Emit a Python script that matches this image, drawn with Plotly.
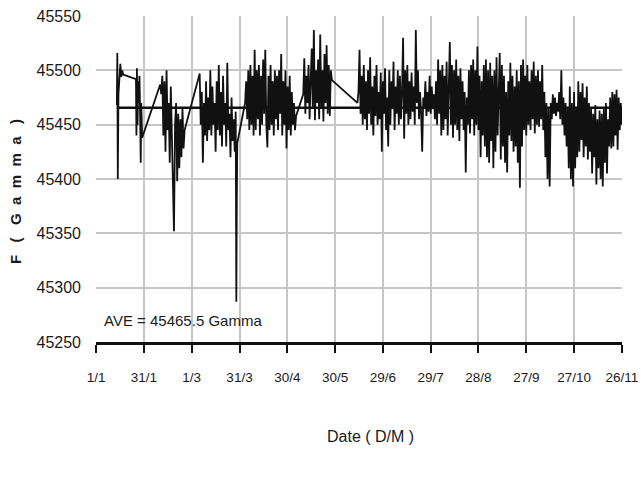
import pandas as pd
import plotly.graph_objects as go

YEAR_START = "2012-01-01"
tick_labels = ["1/1", "31/1", "1/3", "31/3", "30/4", "30/5", "29/6", "29/7",
               "28/8", "27/9", "27/10", "26/11"]
y_ticks = [45250, 45300, 45350, 45400, 45450, 45500, 45550]
AVE = 45465.5
AVE_DAYS = [13.0, 330.0]
STEP = 2.0 / 3.0  # sampling step in days (16 h)

# Segment A: explicit day offsets from 1 Jan
a_days = [13.0, 13.3, 13.6, 14.0, 14.6, 15.2, 15.8, 16.4, 17.0, 25.0, 25.3, 25.6,
          26.0, 26.4, 26.8, 27.2, 27.6, 28.0, 28.3, 28.6, 28.9]
a_vals = [45468, 45516, 45400, 45478, 45492, 45506, 45494, 45500, 45496, 45492, 45440, 45502,
          45450, 45490, 45470, 45495, 45460, 45415, 45470, 45455, 45438]

b_start = 40.2
b_vals = [45487, 45478, 45495, 45440, 45490, 45425, 45500, 45445, 45470, 45415, 45485, 45430,
          45405, 45352, 45450, 45470, 45398, 45460, 45410, 45455, 45420, 45465, 45428, 45445]

c1_start = 65.0
c1_vals = [45497, 45450, 45480, 45415, 45470, 45440, 45490, 45435, 45475, 45445, 45500, 45440,
           45485, 45450, 45470, 45425, 45490, 45445, 45505, 45440, 45480, 45430, 45495, 45450,
           45470, 45430, 45507, 45445, 45460, 45420, 45475, 45435, 45455]

dip_days = [87.0, 87.6, 88.0, 88.3, 88.6]
dip_vals = [45425, 45462, 45287, 45380, 45433]

c2_start = 93.5
c2_vals = [45470, 45490, 45455, 45500, 45445, 45505, 45450, 45495, 45440, 45519,
           45445, 45500, 45455, 45505, 45440, 45495, 45450, 45510, 45460, 45519,
           45450, 45429, 45495, 45445, 45505, 45450, 45490, 45440, 45500, 45455,
           45495, 45445, 45500, 45460, 45515, 45440, 45490, 45450, 45500, 45428,
           45485, 45445, 45495, 45440, 45480, 45450, 45470, 45445, 45458]

c3_start = 130.0
c3_vals = [45478, 45511, 45460, 45495, 45470, 45505, 45455, 45490, 45520, 45465,
           45537, 45454, 45500, 45470, 45510, 45455, 45533, 45465, 45500, 45453,
           45515, 45470, 45523, 45460, 45505, 45458, 45500, 45491]

d_start = 164.0
d_vals = [45470, 45480, 45519, 45460, 45495, 45450, 45505, 45455, 45490, 45445,
          45500, 45460, 45512, 45450, 45485, 45440, 45495, 45458, 45505, 45450,
          45480, 45455, 45498, 45425, 45490, 45460, 45502, 45445, 45475, 45430,
          45500, 45450, 45490, 45465, 45508, 45445, 45485, 45460, 45500, 45450,
          45495, 45455, 45480, 45530, 45437, 45500, 45460, 45505, 45450, 45490,
          45455, 45498, 45462, 45485, 45450, 45537, 45470, 45500, 45455, 45480,
          45460, 45425, 45475, 45465, 45490, 45458, 45480, 45462, 45495, 45460,
          45485, 45465, 45478, 45455, 45490, 45450, 45510, 45460, 45500, 45440,
          45505, 45445, 45495, 45455, 45508, 45440, 45500, 45526, 45450, 45505,
          45438, 45500, 45450, 45510, 45445, 45495, 45435, 45502, 45455, 45490,
          45445, 45480, 45406, 45475, 45450, 45500, 45442, 45505, 45455, 45510,
          45440, 45500, 45450, 45522, 45445, 45495, 45420, 45490, 45440, 45505,
          45430, 45510, 45420, 45500, 45415, 45507, 45435, 45495, 45410, 45500,
          45425, 45512, 45440, 45490, 45516, 45418, 45505, 45430, 45495, 45415,
          45480, 45406, 45490, 45440, 45507, 45435, 45495, 45425, 45485, 45430,
          45500, 45415, 45490, 45392, 45505, 45430, 45510, 45445, 45495, 45440,
          45505, 45450, 45490, 45445, 45500, 45455, 45508, 45442, 45495, 45450,
          45500, 45448, 45490, 45455, 45505, 45445, 45480, 45420, 45470, 45400,
          45465, 45393, 45470, 45455, 45478, 45460, 45475, 45458, 45470, 45462,
          45480, 45455, 45500, 45450, 45475, 45440, 45470, 45430, 45465, 45410,
          45485, 45400, 45470, 45393, 45480, 45410, 45465, 45420, 45490, 45425,
          45480, 45436, 45488, 45420, 45475, 45430, 45485, 45418, 45470, 45425,
          45465, 45405, 45460, 45420, 45468, 45395, 45455, 45410, 45463, 45400,
          45460, 45393, 45465, 45415, 45470, 45405, 45455, 45430, 45475, 45428,
          45480, 45430, 45478, 45440, 45482, 45427, 45475, 45445, 45470, 45450]


def seg_days(start, vals):
    return [start + i * STEP for i in range(len(vals))]


days = (a_days + seg_days(b_start, b_vals) + seg_days(c1_start, c1_vals) + dip_days
        + seg_days(c2_start, c2_vals) + seg_days(c3_start, c3_vals) + seg_days(d_start, d_vals))
vals = a_vals + b_vals + c1_vals + dip_vals + c2_vals + c3_vals + d_vals

t0 = pd.Timestamp(YEAR_START)
dates = t0 + pd.to_timedelta(days, unit="D")
ave_dates = t0 + pd.to_timedelta(AVE_DAYS, unit="D")
tickvals = pd.date_range(YEAR_START, periods=len(tick_labels), freq="30D")

FONT = "Liberation Sans, Arial, sans-serif"
GRID = "#c6c6c6"
TXT = "#1a1a1a"

fig = go.Figure()
fig.add_trace(go.Scatter(x=dates, y=vals, mode="lines",
                         line=dict(color="#111111", width=1.8), showlegend=False))
fig.add_trace(go.Scatter(x=ave_dates, y=[AVE, AVE], mode="lines",
                         line=dict(color="#111111", width=2.4), showlegend=False))

fig.update_layout(
    width=641, height=481,
    margin=dict(l=96, r=19, t=16, b=139),
    paper_bgcolor="white", plot_bgcolor="white",
    font=dict(family=FONT, color=TXT),
    xaxis=dict(
        type="date",
        range=[tickvals[0] - pd.Timedelta(hours=2), tickvals[-1] + pd.Timedelta(hours=2)],
        tickmode="array", tickvals=tickvals, ticktext=tick_labels,
        showgrid=True, gridcolor=GRID, gridwidth=1.5,
        showline=True, linecolor="#111111", linewidth=2.5,
        ticks="outside", ticklen=8, tickwidth=1.5, tickcolor="#111111",
        tickfont=dict(size=13.5, family=FONT, color=TXT),
        ticklabelstandoff=13, zeroline=False, automargin=False,
        ticklabeloverflow="allow",
    ),
    yaxis=dict(
        range=[45250, 45550], tickmode="array", tickvals=y_ticks,
        ticktext=[str(v) for v in y_ticks],
        showgrid=True, gridcolor=GRID, gridwidth=2,
        showline=False, ticks="", zeroline=False,
        tickfont=dict(size=16, family=FONT, color=TXT),
        ticklabelstandoff=14, automargin=False,
        ticklabeloverflow="allow",
    ),
    annotations=[
        dict(text="AVE = 45465.5 Gamma", xref="x", yref="y",
             x=t0 + pd.Timedelta(days=3.5), y=45270, xanchor="left", yanchor="middle",
             showarrow=False, font=dict(size=15, family=FONT, color=TXT)),
        dict(text=("F\u00a0\u00a0\u00a0(\u00a0\u00a0\u00a0G\u00a0\u00a0a\u00a0\u00a0m"
                   "\u00a0\u00a0m\u00a0\u00a0a\u00a0\u00a0\u00a0)"),
             xref="paper", yref="paper", x=-0.154, y=0.463, textangle=-90,
             xanchor="center", yanchor="middle", showarrow=False,
             font=dict(size=15, family=FONT, color=TXT, weight="bold")),
        dict(text="Date ( D/M )", xref="paper", yref="paper", x=0.521, y=-0.291,
             xanchor="center", yanchor="middle", showarrow=False,
             font=dict(size=16, family=FONT, color=TXT)),
    ],
)

fig.write_html("out.html",
               config={"displayModeBar": False},
               post_script="document.body.style.margin='0';document.body.style.overflow='hidden';")
